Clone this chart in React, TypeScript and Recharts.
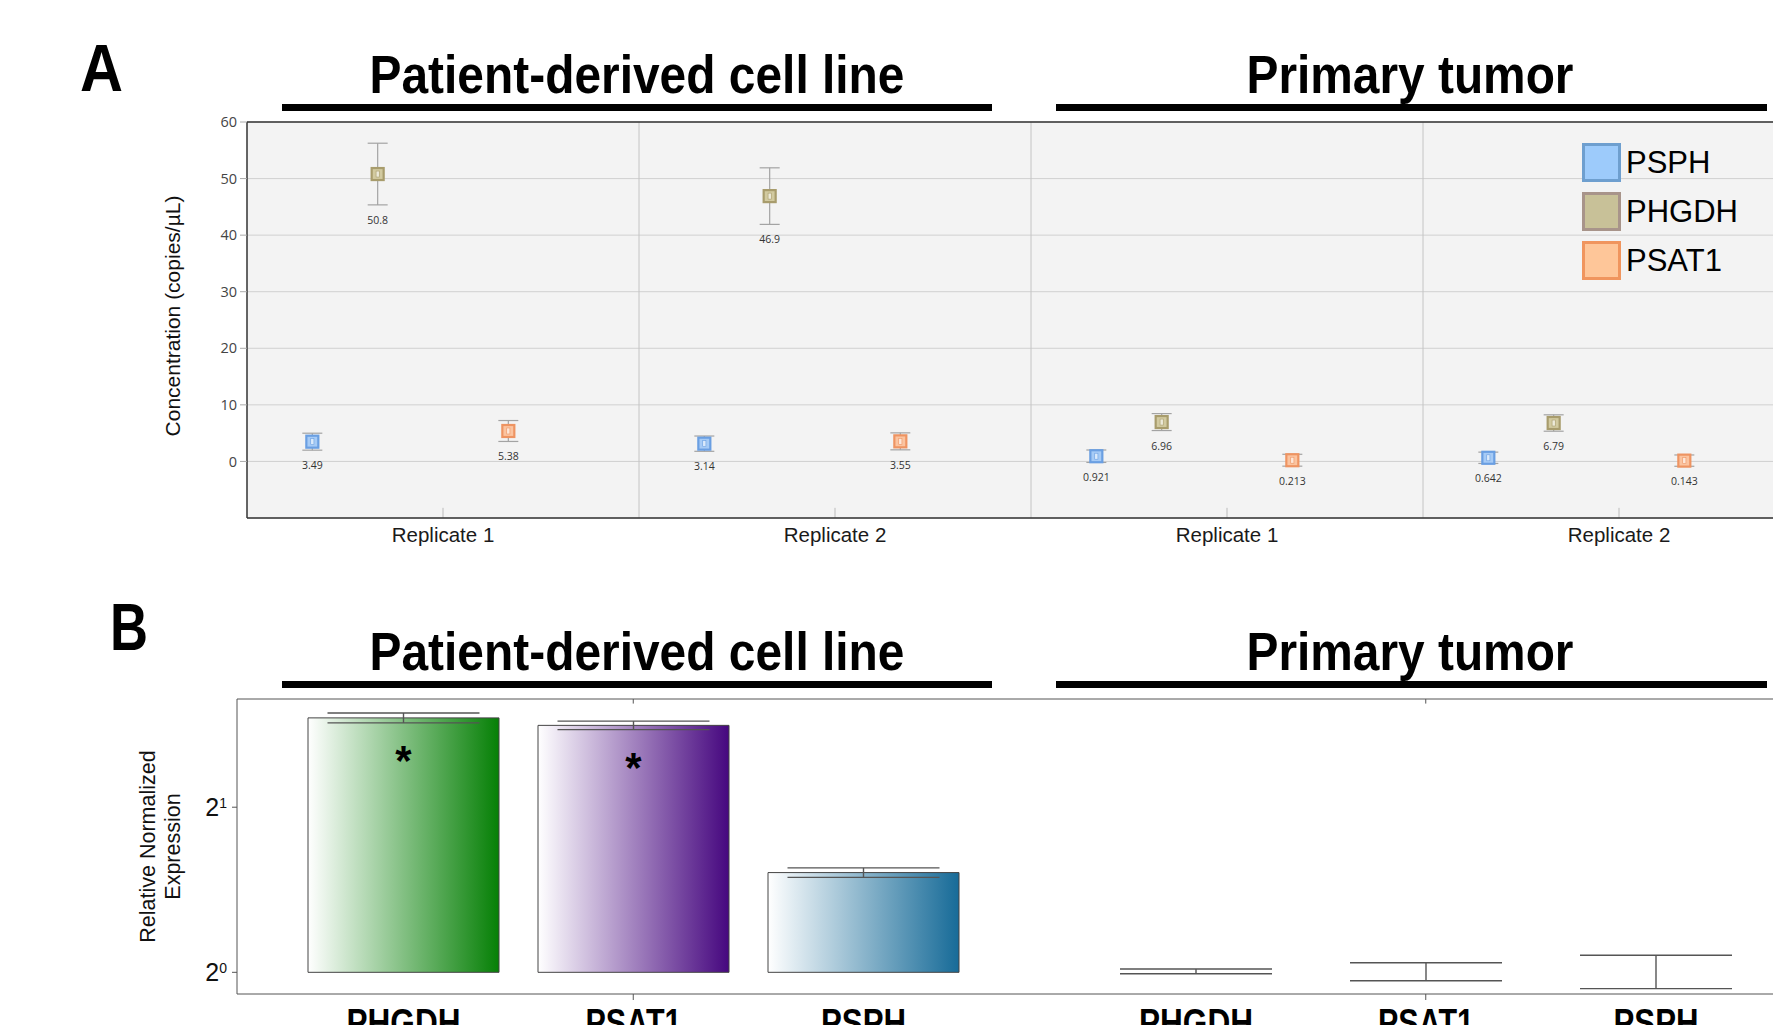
import React from "react";
import {
  ScatterChart, Scatter, XAxis, YAxis, CartesianGrid, ErrorBar, ReferenceLine, Legend,
  BarChart, Bar, LabelList, Cell,
} from "recharts";

// ---- Panel A: ddPCR concentration (copies/µL) ----
const replicateLabels = ["Replicate 1", "Replicate 2", "Replicate 1", "Replicate 2"];
const psphConc = [3.49, 3.14, 0.921, 0.642];
const psphConcErr = [1.5, 1.35, 1.1, 1.0];
const phgdhConc = [50.8, 46.9, 6.96, 6.79];
const phgdhConcErr = [5.45, 5.0, 1.5, 1.45];
const psat1Conc = [5.38, 3.55, 0.213, 0.143];
const psat1ConcErr = [1.85, 1.5, 1.05, 1.0];
const concTicks = [0, 10, 20, 30, 40, 50, 60];

// ---- Panel B: relative normalized expression ----
const exprGroups = ["Patient-derived cell line", "Primary tumor"];
const phgdhExpr = [2.91, 1.004];
const phgdhExprErr = [0.06, 0.01];
const psat1Expr = [2.82, 1.003];
const psat1ExprErr = [0.05, 0.038];
const psphExpr = [1.52, 1.004];
const psphExprErr = [0.03, 0.07];
const phgdhStars = ["*", ""];
const psat1Stars = ["*", ""];
const exprTicks = [1, 2];

const ARIAL = "'Liberation Sans', Arial, sans-serif";
const SEGOE = "'Open Sans', 'Noto Sans', sans-serif";

const SECTION = 6;
const SLOT: Record<string, number> = { PSPH: 1, PHGDH: 2, PSAT1: 4 };

const genesA = [
  { name: "PSPH", values: psphConc, errs: psphConcErr, stroke: "#6a9fe2", fill: "#a6cbf6", legStroke: "#6e9fcf", legFill: "#9dcbfb" },
  { name: "PHGDH", values: phgdhConc, errs: phgdhConcErr, stroke: "#a89c6c", fill: "#d2caa0", legStroke: "#a8948a", legFill: "#c8c198" },
  { name: "PSAT1", values: psat1Conc, errs: psat1ConcErr, stroke: "#ee9462", fill: "#fbc4a0", legStroke: "#f0955e", legFill: "#fec699" },
];

const seriesA = genesA.map((g) => ({
  ...g,
  data: g.values.map((v, i) => ({ x: i * SECTION + SLOT[g.name], y: v, err: g.errs[i] })),
}));

const labelPointsA = genesA.flatMap((g) =>
  g.values.map((v, i) => ({ x: i * SECTION + SLOT[g.name], y: v - g.errs[i], text: String(v) }))
);

const exprData = exprGroups.map((group, i) => ({
  group,
  phgdh: phgdhExpr[i], phgdhErr: phgdhExprErr[i],
  psat1: psat1Expr[i], psat1Err: psat1ExprErr[i],
  psph: psphExpr[i], psphErr: psphExprErr[i],
}));

const makeMarker = (stroke: string, fill: string) => (props: any) => {
  const { cx, cy } = props;
  if (cx == null || cy == null) return <g />;
  return (
    <g>
      <rect x={cx - 6} y={cy - 6} width={12} height={12} fill={fill} stroke={stroke} strokeWidth={2.2} />
      <rect x={cx - 1.6} y={cy - 3} width={3.2} height={6} fill="#ffffff" fillOpacity={0.6} stroke={stroke} strokeWidth={0.6} />
    </g>
  );
};

const ValueLabel = (props: any) => {
  const { cx, cy, payload } = props;
  if (cx == null || cy == null) return <g />;
  return (
    <text x={cx} y={cy + 19} textAnchor="middle" fontSize={10.5} fill="#333" fontFamily={SEGOE}>
      {payload.text}
    </text>
  );
};

const LegendA = () => (
  <div style={{ fontFamily: ARIAL }}>
    {genesA.map((g) => (
      <div key={g.name} style={{ display: "flex", alignItems: "center", height: 49 }}>
        <div style={{ width: 33, height: 33, background: g.legFill, border: `3px solid ${g.legStroke}` }} />
        <span style={{ fontSize: 31, marginLeft: 5, color: "#000" }}>{g.name}</span>
      </div>
    ))}
  </div>
);

// condensed bold heading: Arial bold squeezed to the measured width
const Narrow = ({ x, y, size, len, children, anchor = "middle" }: any) => (
  <text x={x} y={y} fontSize={size} fontFamily={ARIAL} fontWeight="bold" textAnchor={anchor}
    textLength={len} lengthAdjust="spacingAndGlyphs" fill="#000">
    {children}
  </text>
);

const PowTick = (props: any) => {
  const { x, y, payload } = props;
  return (
    <text x={x - 3} y={y + 9} textAnchor="end" fontFamily={ARIAL} fill="#111">
      <tspan fontSize={25}>2</tspan>
      <tspan fontSize={14} dy={-8}>{Math.round(Math.log2(payload.value))}</tspan>
    </text>
  );
};

const GENE_Y = 436;
const geneLabel = (name: string, len: number) => (p: any) => (
  <Narrow x={p.x + p.width / 2} y={GENE_Y} size={38} len={len}>{name}</Narrow>
);
const starLabel = (stars: string[]) => (p: any) =>
  stars[p.index] ? (
    <text x={p.x + p.width / 2} y={p.y + 57} textAnchor="middle" fontFamily={ARIAL} fontWeight="bold" fontSize={42} fill="#000">
      {stars[p.index]}
    </text>
  ) : null;

const barGradients = [
  { id: "gPhgdh", to: "#068006" },
  { id: "gPsat1", to: "#46077f" },
  { id: "gPsph", to: "#176b98" },
];

// bars that sit on 2^0 have no visible body, only their error bars
const visible = (v: number) => v > 1.01;

export default function App() {
  return (
    <div style={{ position: "relative", width: 1781, height: 1033, overflow: "hidden", margin: -8, background: "#fff" }}>
      <svg width={1781} height={1033} style={{ position: "absolute", left: 0, top: 0 }}>
        <Narrow x={80} y={91} size={66} len={43} anchor="start">A</Narrow>
        <Narrow x={110} y={650} size={66} len={38} anchor="start">B</Narrow>
        {[93, 670].map((by) => (
          <g key={by}>
            <Narrow x={637} y={by} size={54} len={535}>Patient-derived cell line</Narrow>
            <Narrow x={1410} y={by} size={54} len={327}>Primary tumor</Narrow>
          </g>
        ))}
        <rect x={282} y={104} width={710} height={7} fill="#000" />
        <rect x={1056} y={104} width={711} height={7} fill="#000" />
        <rect x={282} y={681} width={710} height={7} fill="#000" />
        <rect x={1056} y={681} width={711} height={7} fill="#000" />
      </svg>

      <div style={{ position: "absolute", left: 0, top: 0 }}>
        <ScatterChart width={1835} height={560} margin={{ top: 122, right: 20, bottom: 12, left: 187 }}>
          <CartesianGrid fill="#f3f3f3" vertical={false} stroke="#d0d0d0" />
          <XAxis
            type="number" dataKey="x" domain={[0, 24]} ticks={[3, 9, 15, 21]}
            tickFormatter={(v: number) => replicateLabels[Math.round((v - 3) / SECTION)]}
            axisLine={{ stroke: "#333", strokeWidth: 1.5 }} tickLine={false} tickMargin={3} height={30}
            tick={{ fontSize: 20.5, fill: "#1a1a1a", fontFamily: ARIAL }} allowDataOverflow
          />
          <YAxis
            type="number" dataKey="y" domain={[-10, 60]} ticks={concTicks} width={60} allowDataOverflow
            axisLine={{ stroke: "#333", strokeWidth: 1.5 }} tickLine={{ stroke: "#aaa" }} tickSize={7} tickMargin={3}
            tick={{ fontSize: 14.5, fill: "#444", fontFamily: SEGOE }}
            label={{
              content: (p: any) => {
                const vb = p.viewBox;
                const cx = vb.x - 15;
                const cy = vb.y + vb.height / 2 - 4;
                return (
                  <text x={cx} y={cy} transform={`rotate(-90 ${cx} ${cy})`} textAnchor="middle" dominantBaseline="central" fontSize={21} fontFamily={ARIAL} fill="#111">
                    Concentration (copies/µL)
                  </text>
                );
              },
            }}
          />
          {[6, 12, 18].map((x) => (
            <ReferenceLine key={x} x={x} stroke="#c4c4c4" />
          ))}
          {[3, 9, 15, 21].map((x) => (
            <ReferenceLine key={`t${x}`} segment={[{ x, y: -10 }, { x, y: -8.2 }]} stroke="#bbb" />
          ))}
          <ReferenceLine y={60} stroke="#333" strokeWidth={1.5} />
          {seriesA.map((s) => (
            <Scatter key={s.name} name={s.name} data={s.data} isAnimationActive={false} shape={makeMarker(s.stroke, s.fill)}>
              <ErrorBar dataKey="err" direction="y" width={10} stroke="#a3a3a3" strokeWidth={1.2} />
            </Scatter>
          ))}
          <Scatter name="labels" data={labelPointsA} isAnimationActive={false} shape={ValueLabel} legendType="none" />
          <Legend
            layout="vertical" align="center" verticalAlign="middle"
            wrapperStyle={{ left: 1582, top: 138, width: 200, height: 150 }}
            content={() => <LegendA />}
          />
        </ScatterChart>
      </div>

      <div style={{ position: "absolute", left: 0, top: 600 }}>
        <BarChart width={1832} height={433} data={exprData} margin={{ top: 99, right: 10, bottom: 0, left: 177 }} barSize={191} barGap={39}>
          <defs>
            {barGradients.map((g) => (
              <linearGradient key={g.id} id={g.id} x1="0" y1="0" x2="1" y2="0">
                <stop offset="0%" stopColor="#ffffff" />
                <stop offset="100%" stopColor={g.to} />
              </linearGradient>
            ))}
          </defs>
          <XAxis dataKey="group" tickFormatter={() => ""} axisLine={{ stroke: "#555" }} tickLine={{ stroke: "#555" }} tickSize={6} height={39} />
          <YAxis
            scale="log" type="number" domain={[0.913, 3.15]} ticks={exprTicks} allowDataOverflow width={60}
            axisLine={{ stroke: "#555" }} tickLine={{ stroke: "#555" }} tickSize={5} tickMargin={2} tick={<PowTick />}
            label={{
              content: (p: any) => {
                const vb = p.viewBox;
                const cy = vb.y + vb.height / 2;
                const x1 = vb.x - 29;
                const x2 = vb.x - 4;
                return (
                  <g fontFamily={ARIAL} fontSize={21.5} fill="#111">
                    <text x={x1} y={cy} transform={`rotate(-90 ${x1} ${cy})`} textAnchor="middle" dominantBaseline="central">Relative Normalized</text>
                    <text x={x2} y={cy} transform={`rotate(-90 ${x2} ${cy})`} textAnchor="middle" dominantBaseline="central">Expression</text>
                  </g>
                );
              },
            }}
          />
          <ReferenceLine y={3.15} stroke="#555" />
          {exprGroups.map((g) => (
            <ReferenceLine key={g} segment={[{ x: g, y: 3.15 }, { x: g, y: 3.09 }]} stroke="#555" />
          ))}
          <Bar dataKey={(d: any) => [1, d.phgdh]} name="PHGDH" strokeWidth={1} isAnimationActive={false}>
            {phgdhExpr.map((v, i) => (
              <Cell key={i} fill={visible(v) ? "url(#gPhgdh)" : "none"} stroke={visible(v) ? "#444" : "none"} />
            ))}
            <ErrorBar dataKey="phgdhErr" direction="y" width={76} stroke="#555" strokeWidth={1.4} />
            <LabelList content={geneLabel("PHGDH", 114)} />
            <LabelList content={starLabel(phgdhStars)} />
          </Bar>
          <Bar dataKey={(d: any) => [1, d.psat1]} name="PSAT1" strokeWidth={1} isAnimationActive={false}>
            {psat1Expr.map((v, i) => (
              <Cell key={i} fill={visible(v) ? "url(#gPsat1)" : "none"} stroke={visible(v) ? "#444" : "none"} />
            ))}
            <ErrorBar dataKey="psat1Err" direction="y" width={76} stroke="#555" strokeWidth={1.4} />
            <LabelList content={geneLabel("PSAT1", 96)} />
            <LabelList content={starLabel(psat1Stars)} />
          </Bar>
          <Bar dataKey={(d: any) => [1, d.psph]} name="PSPH" strokeWidth={1} isAnimationActive={false}>
            {psphExpr.map((v, i) => (
              <Cell key={i} fill={visible(v) ? "url(#gPsph)" : "none"} stroke={visible(v) ? "#444" : "none"} />
            ))}
            <ErrorBar dataKey="psphErr" direction="y" width={76} stroke="#555" strokeWidth={1.4} />
            <LabelList content={geneLabel("PSPH", 85)} />
          </Bar>
        </BarChart>
      </div>
    </div>
  );
}
